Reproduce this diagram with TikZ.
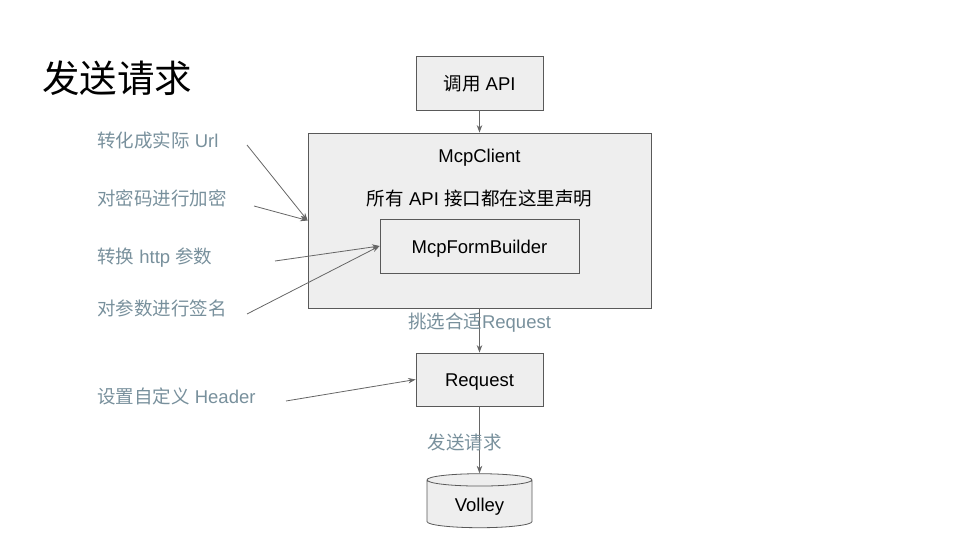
\documentclass[tikz,border=0pt]{standalone}
\usepackage{fontspec}
\setmainfont{Liberation Sans}
\newfontfamily\cjk{Noto Sans CJK SC}
\usepackage{xcolor}
\usetikzlibrary{shapes.geometric, arrows, arrows.meta, positioning, calc}
\definecolor{border}{RGB}{89, 89, 89}
\definecolor{boxfill}{RGB}{238, 238, 238}
\definecolor{notegray}{RGB}{120, 144, 156}
\definecolor{wire}{RGB}{102, 102, 102}
\tikzstyle{arrow} = [-{Stealth[length=7.5pt, width=5.5pt]}, color=wire, line width=0.8pt]
\tikzstyle{block} = [rectangle, draw=border, fill=boxfill, line width=0.8pt, inner sep=0pt, text height=16pt, text depth=1.8pt, font=\fontsize{18.5}{22}\selectfont]
\tikzstyle{remark} = [anchor=west, inner sep=0pt, text=notegray, font=\fontsize{18.5}{22}\selectfont]
\tikzstyle{plain} = [inner sep=0pt, text height=16pt, text depth=1.8pt, font=\fontsize{18.5}{22}\selectfont]

\begin{document}
\begin{tikzpicture}[x=1pt, y=-1pt]
    \useasboundingbox (0,0) rectangle (960,540);
    \node (title) [anchor=west, inner sep=0pt, font=\fontsize{37.5}{42}\selectfont] at (42,78) {\cjk 发送请求};

    \node (api) [block, minimum width=127pt, minimum height=54pt] at (479.5,83) {{\cjk 调用} API};
    \node (client) [block, minimum width=343pt, minimum height=175pt] at (479.5,220.5) {};
    \node (clientname) [plain] at (479.5,155) {McpClient};
    \node (declare) [plain] at (479.5,198) {{\cjk 所有} API {\cjk 接口都在这里声明}};
    \node (builder) [block, minimum width=199pt, minimum height=54pt] at (479.5,246) {McpFormBuilder};
    \node (request) [block, minimum width=127pt, minimum height=53pt] at (479.5,379.5) {Request};
    \node (volley) [cylinder, shape border rotate=90, aspect=0.25, draw=border, fill=boxfill, line width=0.8pt, inner sep=0pt, minimum width=105pt, minimum height=54pt, text height=16pt, text depth=1.8pt, font=\fontsize{18.5}{22}\selectfont] at (479.5,504) {Volley};

    % notes on the left
    \node (url) [remark] at (97,140) {{\cjk 转化成实际} Url};
    \node (secret) [remark] at (97,198) {\cjk 对密码进行加密};
    \node (param) [remark] at (97,258) {{\cjk 转换} http {\cjk 参数}};
    \node (sign) [remark] at (97,308) {\cjk 对参数进行签名};
    \node (header) [remark] at (97,396) {{\cjk 设置自定义} Header};

    \coordinate (urlend) at (247,145);
    \coordinate (secretend) at (254,206);
    \coordinate (paramend) at (275,261);
    \coordinate (signend) at (247,314);
    \coordinate (headerend) at (286,401);

    \draw [arrow] (urlend) -- (client.west);
    \draw [arrow] (secretend) -- (client.west);
    \draw [arrow] (paramend) -- (builder.west);
    \draw [arrow] (signend) -- (builder.west);
    \draw [arrow] (headerend) -- (request.west);

    \draw [arrow] (api) -- (client);
    \draw [arrow] (client) -- node[pos=0.33, remark, anchor=center] {{\cjk 挑选合适}Request} (request);
    \draw [arrow] (request) -- node[pos=0.54, remark, anchor=center, xshift=-15pt] {\cjk 发送请求} (volley);
\end{tikzpicture}
\end{document}
